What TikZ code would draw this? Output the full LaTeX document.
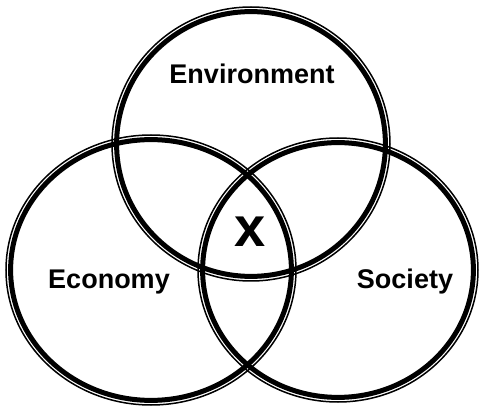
\documentclass[tikz,border=0pt]{standalone}
\usepackage{fontspec}
\setmainfont{Liberation Sans}
\begin{document}
\begin{tikzpicture}[x=1pt,y=-1pt,
    thinring/.style={line width=1.5pt},
    thickring/.style={line width=5pt},
    lbl/.style={font=\bfseries\fontsize{27}{27}\selectfont}]
  \useasboundingbox (0,0) rectangle (480,409);
  \def\gap{4.6}

  % three rings, thin line outside, thick line inside
  \foreach \cx/\cy/\rx/\ry in {251/144/139/137, 151/270/145/135, 338/270/140/132} {
    \draw[thinring] (\cx,\cy) ellipse [x radius=\rx, y radius=\ry];
    \draw[thickring] (\cx,\cy) ellipse [x radius=\rx-\gap, y radius=\ry-\gap];
  }

  \node[lbl] (environment) at (252,74) {Environment};
  \node[lbl] (economy) at (109,282) {Economy};
  \node[lbl] (society) at (405,282) {Society};
  \node[font=\bfseries\fontsize{56}{56}\selectfont] (x) at (250,232) {x};
\end{tikzpicture}
\end{document}
